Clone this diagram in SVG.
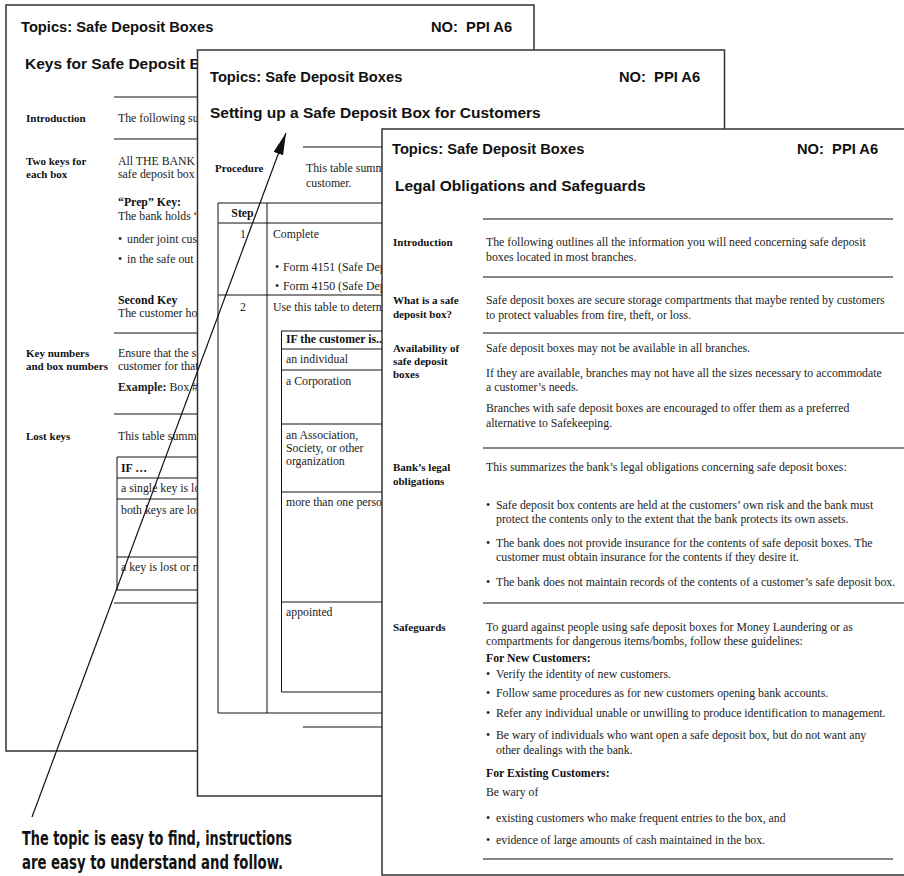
<svg xmlns="http://www.w3.org/2000/svg" width="904" height="876" viewBox="0 0 904 876">
<defs>
<style>
.pg{fill:#fff;stroke:#333;stroke-width:1.5}
.ln{stroke:#111;stroke-width:1.2;fill:none}
.tb{fill:none;stroke:#111;stroke-width:1}
.h{font-family:"Liberation Sans",Arial,sans-serif;font-weight:bold;font-size:14.7px;fill:#111}
.hh{font-family:"Liberation Sans",Arial,sans-serif;font-weight:bold;font-size:15.5px;fill:#111}
.b{font-family:"Liberation Serif","Times New Roman",serif;font-size:11.8px;fill:#222}
.bb{font-family:"Liberation Serif","Times New Roman",serif;font-size:11.8px;font-weight:bold;fill:#111}
.l{font-family:"Liberation Serif","Times New Roman",serif;font-size:11px;font-weight:bold;fill:#111}
.cap{font-family:"DejaVu Sans Condensed","DejaVu Sans",sans-serif;font-weight:bold;font-size:19px;fill:#111}
.mid{text-anchor:middle}
</style>
<marker id="ah" markerUnits="userSpaceOnUse" markerWidth="22" markerHeight="10" refX="22" refY="5" orient="auto">
<path d="M0,0 L22,5 L0,10 z" fill="#111"/>
</marker>
</defs>
<rect width="904" height="876" fill="#fff"/>

<g id="page1">
<rect class="pg" x="6" y="5" width="528" height="746"/>
<text class="h" x="21" y="32">Topics: Safe Deposit Boxes</text>
<text class="h" x="431" y="32" xml:space="preserve">NO:  PPI A6</text>
<text class="hh" x="25" y="69">Keys for Safe Deposit B</text>
<line class="ln" x1="114" y1="97" x2="198" y2="97"/>
<text class="l" x="26" y="122">Introduction</text>
<text class="b" x="118" y="122">The following su</text>
<line class="ln" x1="114" y1="139" x2="198" y2="139"/>
<text class="l" x="26" y="165">Two keys for</text>
<text class="l" x="26" y="178">each box</text>
<text class="b" x="118" y="164.5">All THE BANK</text>
<text class="b" x="118" y="178">safe deposit box</text>
<text class="bb" x="118" y="206">“Prep” Key:</text>
<text class="b" x="118" y="219.5">The bank holds “</text>
<text class="b" x="118" y="243">•<tspan x="127">under joint cus</tspan></text>
<text class="b" x="118" y="263">•<tspan x="127">in the safe out</tspan></text>
<text class="bb" x="118" y="303.5">Second Key</text>
<text class="b" x="118" y="317">The customer ho</text>
<line class="ln" x1="114" y1="333" x2="198" y2="333"/>
<text class="l" x="26" y="357">Key numbers</text>
<text class="l" x="26" y="370">and box numbers</text>
<text class="b" x="118" y="357">Ensure that the s</text>
<text class="b" x="118" y="370">customer for that</text>
<text class="b" x="118" y="391"><tspan font-weight="bold">Example:</tspan> Box #</text>
<line class="ln" x1="114" y1="414" x2="198" y2="414"/>
<text class="l" x="26" y="440">Lost keys</text>
<text class="b" x="118" y="440">This table summa</text>
<path class="tb" d="M198,457 H117 V590 H198 M117,478 H198 M117,499 H198 M117,557 H198"/>
<text class="bb" x="121" y="472">IF …</text>
<text class="b" x="121" y="492">a single key is lo</text>
<text class="b" x="121" y="514">both keys are los</text>
<text class="b" x="121" y="571">a key is lost or n</text>
<line class="ln" x1="114" y1="603" x2="198" y2="603"/>
</g>

<g id="page2">
<rect class="pg" x="197.5" y="50" width="527" height="746"/>
<text class="h" x="210" y="82">Topics: Safe Deposit Boxes</text>
<text class="h" x="619" y="82" xml:space="preserve">NO:  PPI A6</text>
<text class="hh" x="210" y="118">Setting up a Safe Deposit Box for Customers</text>
<line class="ln" x1="303" y1="147" x2="383" y2="147"/>
<text class="l" x="215" y="172">Procedure</text>
<text class="b" x="306" y="172">This table summ</text>
<text class="b" x="306" y="187">customer.</text>
<path class="tb" d="M383,203 H218 V713 H383 M267,203 V713 M218,223 H383 M218,295 H383"/>
<text class="bb mid" x="242.5" y="217">Step</text>
<text class="b mid" x="243" y="238">1</text>
<text class="b" x="273" y="238">Complete</text>
<text class="b" x="275" y="271">•<tspan x="283">Form 4151 (Safe Dep</tspan></text>
<text class="b" x="275" y="290">•<tspan x="283">Form 4150 (Safe Dep</tspan></text>
<text class="b mid" x="243" y="311">2</text>
<text class="b" x="273" y="311">Use this table to determ</text>
<path class="tb" d="M383,331 H281.5 V692 H383 M281.5,349 H383 M281.5,370 H383 M281.5,424 H383 M281.5,492 H383 M281.5,602 H383"/>
<text class="bb" x="286" y="343">IF the customer is..</text>
<text class="b" x="286" y="363">an individual</text>
<text class="b" x="286" y="385">a Corporation</text>
<text class="b" x="286" y="439">an Association,</text>
<text class="b" x="286" y="452">Society, or other</text>
<text class="b" x="286" y="465">organization</text>
<text class="b" x="286" y="506">more than one perso</text>
<text class="b" x="286" y="616">appointed</text>
<line class="ln" x1="303" y1="727" x2="383" y2="727"/>
</g>

<g id="page3">
<rect class="pg" x="382" y="129" width="540" height="746"/>
<text class="h" x="392" y="154">Topics: Safe Deposit Boxes</text>
<text class="h" x="797" y="154" xml:space="preserve">NO:  PPI A6</text>
<text class="hh" x="395" y="191">Legal Obligations and Safeguards</text>
<line class="ln" x1="483" y1="219" x2="893" y2="219"/>
<text class="l" x="393" y="246">Introduction</text>
<text class="b" x="486" y="246">The following outlines all the information you will need concerning safe deposit</text>
<text class="b" x="486" y="261">boxes located in most branches.</text>
<line class="ln" x1="483" y1="277" x2="893" y2="277"/>
<text class="l" x="393" y="304">What is a safe</text>
<text class="l" x="393" y="318">deposit box?</text>
<text class="b" x="486" y="304">Safe deposit boxes are secure storage compartments that maybe rented by customers</text>
<text class="b" x="486" y="319">to protect valuables from fire, theft, or loss.</text>
<line class="ln" x1="483" y1="333" x2="904" y2="333"/>
<text class="l" x="393" y="352">Availability of</text>
<text class="l" x="393" y="365">safe deposit</text>
<text class="l" x="393" y="378">boxes</text>
<text class="b" x="486" y="352">Safe deposit boxes may not be available in all branches.</text>
<text class="b" x="486" y="377">If they are available, branches may not have all the sizes necessary to accommodate</text>
<text class="b" x="486" y="391">a customer’s needs.</text>
<text class="b" x="486" y="412">Branches with safe deposit boxes are encouraged to offer them as a preferred</text>
<text class="b" x="486" y="427">alternative to Safekeeping.</text>
<line class="ln" x1="483" y1="448" x2="904" y2="448"/>
<text class="l" x="393" y="471">Bank’s legal</text>
<text class="l" x="393" y="485">obligations</text>
<text class="b" x="486" y="471">This summarizes the bank’s legal obligations concerning safe deposit boxes:</text>
<text class="b" x="486" y="509">•</text>
<text class="b" x="496" y="509">Safe deposit box contents are held at the customers’ own risk and the bank must</text>
<text class="b" x="496" y="523">protect the contents only to the extent that the bank protects its own assets.</text>
<text class="b" x="486" y="547">•</text>
<text class="b" x="496" y="547">The bank does not provide insurance for the contents of safe deposit boxes. The</text>
<text class="b" x="496" y="561">customer must obtain insurance for the contents if they desire it.</text>
<text class="b" x="486" y="586">•</text>
<text class="b" x="496" y="586">The bank does not maintain records of the contents of a customer’s safe deposit box.</text>
<line class="ln" x1="483" y1="603" x2="904" y2="603"/>
<text class="l" x="393" y="631">Safeguards</text>
<text class="b" x="486" y="631">To guard against people using safe deposit boxes for Money Laundering or as</text>
<text class="b" x="486" y="645">compartments for dangerous items/bombs, follow these guidelines:</text>
<text class="bb" x="486" y="662">For New Customers:</text>
<text class="b" x="486" y="678">•</text>
<text class="b" x="496" y="678">Verify the identity of new customers.</text>
<text class="b" x="486" y="697">•</text>
<text class="b" x="496" y="697">Follow same procedures as for new customers opening bank accounts.</text>
<text class="b" x="486" y="717">•</text>
<text class="b" x="496" y="717">Refer any individual unable or unwilling to produce identification to management.</text>
<text class="b" x="486" y="739">•</text>
<text class="b" x="496" y="739">Be wary of individuals who want open a safe deposit box, but do not want any</text>
<text class="b" x="496" y="754">other dealings with the bank.</text>
<text class="bb" x="486" y="777">For Existing Customers:</text>
<text class="b" x="486" y="796">Be wary of</text>
<text class="b" x="486" y="822">•</text>
<text class="b" x="496" y="822">existing customers who make frequent entries to the box, and</text>
<text class="b" x="486" y="844">•</text>
<text class="b" x="496" y="844">evidence of large amounts of cash maintained in the box.</text>
<line class="ln" x1="483" y1="859" x2="893" y2="859"/>
</g>

<g id="connectors">
<line x1="32" y1="817" x2="286" y2="133" stroke="#111" stroke-width="1.2" marker-end="url(#ah)"/>
</g>

<g id="caption">
<text class="cap" x="22" y="845" textLength="270" lengthAdjust="spacingAndGlyphs">The topic is easy to find, instructions</text>
<text class="cap" x="22" y="869" textLength="261" lengthAdjust="spacingAndGlyphs">are easy to understand and follow.</text>
</g>
</svg>
